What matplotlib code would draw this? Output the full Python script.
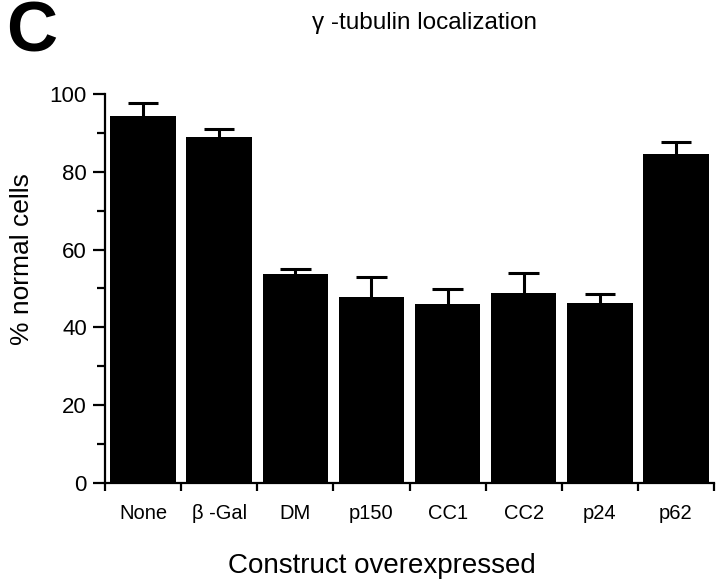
import matplotlib
matplotlib.use("Agg")
import matplotlib.pyplot as plt
from matplotlib.ticker import MultipleLocator
import numpy as np

plt.rcParams['font.family'] = ['Liberation Sans', 'DejaVu Sans']

constructs = ["None", "β -Gal", "DM", "p150", "CC1", "CC2", "p24", "p62"]
pct_normal = [94.4, 89.0, 53.8, 47.8, 45.9, 48.8, 46.4, 84.7]
err_upper = [3.2, 2.1, 1.1, 5.1, 3.9, 5.1, 2.1, 3.0]

fig = plt.figure(figsize=(7.2, 5.82), dpi=100)
ax = fig.add_axes([0.1458, 0.1701, 0.8459, 0.6684])

x = np.arange(len(constructs))
vals = np.array(pct_normal)
tops = vals + np.array(err_upper)
ax.bar(x, vals, width=0.86, color="black", zorder=2)
# only the upper half of each error bar is shown
ax.vlines(x, vals, tops, color="black", linewidth=2.2, zorder=1)
ax.hlines(tops, x - 0.2, x + 0.2, color="black", linewidth=2.2, zorder=1)

ax.set_xlim(-0.5, len(constructs) - 0.5)
ax.set_ylim(0, 100)

for s in ["top", "right"]:
    ax.spines[s].set_visible(False)
for s in ["left", "bottom"]:
    ax.spines[s].set_linewidth(1.6)

# ticks sit between bars, labels go under the bars
ax.set_xticks(np.arange(len(constructs) + 1) - 0.5)
ax.set_xticklabels([])
ax.tick_params(axis="x", length=6, width=1.6, direction="out")
for xi, lab in zip(x, constructs):
    ax.text(xi, -5.3, lab, ha="center", va="top", fontsize=14.5)

ax.yaxis.set_major_locator(MultipleLocator(20))
ax.yaxis.set_minor_locator(MultipleLocator(10))
ax.tick_params(axis="y", which="major", length=9, width=1.6, labelsize=16, pad=4)
ax.tick_params(axis="y", which="minor", length=6, width=1.6)

fig.text(22 / 720, 1 - 259 / 582, "% normal cells", rotation=90,
         ha="center", va="center", fontsize=19)
fig.text(382 / 720, 1 - 566 / 582, "Construct overexpressed",
         ha="center", va="center", fontsize=20)
fig.text(425 / 720, 1 - 23 / 582, "γ -tubulin localization",
         ha="center", va="center", fontsize=17.5)
fig.text(6 / 720, 1 - 1 / 582, "C", ha="left", va="top",
         fontsize=51, fontweight="bold")

fig.savefig("out.png", dpi=100)
